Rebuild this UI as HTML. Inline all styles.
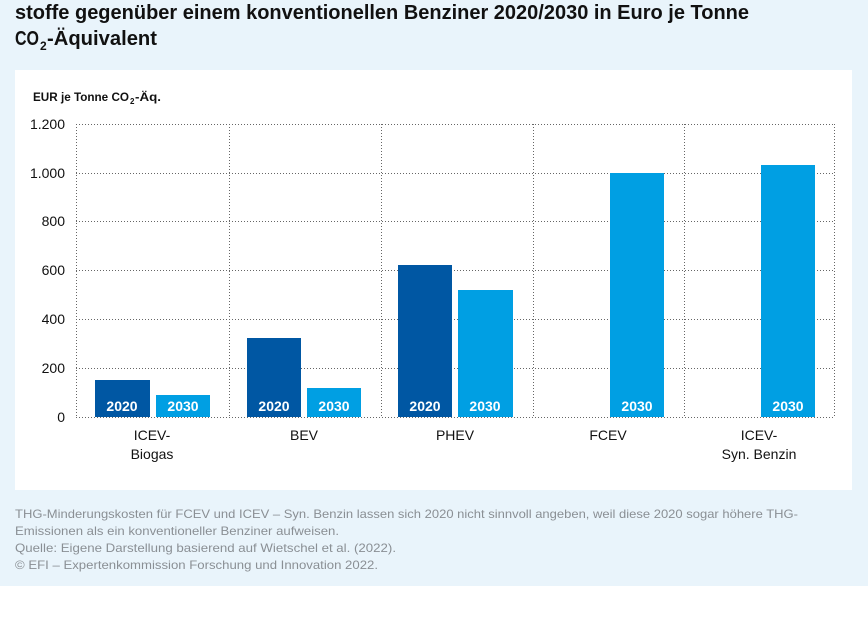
<!DOCTYPE html>
<html><head><meta charset="utf-8"><style>
html,body{margin:0;padding:0;background:#fff;}
svg{display:block;font-family:"Liberation Sans Narrow","Liberation Sans",sans-serif;}
</style></head><body>
<svg width="868" height="618" viewBox="0 0 868 618" xmlns="http://www.w3.org/2000/svg">
<rect x="0" y="0" width="868" height="586" fill="#e9f4fb"/>
<rect x="15" y="70" width="837" height="420" fill="#fff"/>
<g font-weight="bold" font-size="20" fill="#111">
<text x="15" y="19" textLength="734" lengthAdjust="spacingAndGlyphs">stoffe gegenüber einem konventionellen Benziner 2020/2030 in Euro je Tonne</text>
<text x="15" y="45" textLength="24" lengthAdjust="spacingAndGlyphs">CO</text>
<text x="40" y="50" font-size="12">2</text>
<text x="47" y="45" textLength="110" lengthAdjust="spacingAndGlyphs">-Äquivalent</text>
</g>
<g font-size="12" font-weight="bold" fill="#111">
<text x="33" y="101" textLength="96" lengthAdjust="spacingAndGlyphs">EUR je Tonne CO</text>
<text x="130" y="104" font-size="8">2</text>
<text x="135" y="101" textLength="26" lengthAdjust="spacingAndGlyphs">-Äq.</text>
</g>
<g stroke="#666" stroke-width="1" stroke-dasharray="1,2">
<line x1="76" y1="124.5" x2="834" y2="124.5"/>
<line x1="76" y1="173.5" x2="834" y2="173.5"/>
<line x1="76" y1="221.5" x2="834" y2="221.5"/>
<line x1="76" y1="270.5" x2="834" y2="270.5"/>
<line x1="76" y1="319.5" x2="834" y2="319.5"/>
<line x1="76" y1="368.5" x2="834" y2="368.5"/>
<line x1="76" y1="417.5" x2="834" y2="417.5"/>
<line x1="76.5" y1="124" x2="76.5" y2="417"/>
<line x1="229.5" y1="124" x2="229.5" y2="417"/>
<line x1="381.5" y1="124" x2="381.5" y2="417"/>
<line x1="533.5" y1="124" x2="533.5" y2="417"/>
<line x1="684.5" y1="124" x2="684.5" y2="417"/>
<line x1="834.5" y1="124" x2="834.5" y2="417"/>
</g>
<g font-size="14" fill="#111" text-anchor="end">
<text x="65" y="129">1.200</text><text x="65" y="178">1.000</text><text x="65" y="226">800</text>
<text x="65" y="275">600</text><text x="65" y="324">400</text><text x="65" y="373">200</text><text x="65" y="422">0</text>
</g>
<g fill="#0057a3">
<rect x="95" y="380" width="55" height="37"/>
<rect x="247" y="338" width="54" height="79"/>
<rect x="398" y="265" width="54" height="152"/>
</g>
<g fill="#009fe3">
<rect x="156" y="395" width="54" height="22"/>
<rect x="307" y="388" width="54" height="29"/>
<rect x="458" y="290" width="55" height="127"/>
<rect x="610" y="173" width="54" height="244"/>
<rect x="761" y="165" width="54" height="252"/>
</g>
<g font-size="14" font-weight="bold" fill="#fff" text-anchor="middle">
<text x="122" y="411">2020</text><text x="183" y="411">2030</text>
<text x="274" y="411">2020</text><text x="334" y="411">2030</text>
<text x="425" y="411">2020</text><text x="485" y="411">2030</text>
<text x="637" y="411">2030</text><text x="788" y="411">2030</text>
</g>
<g font-size="14" fill="#111" text-anchor="middle">
<text x="152" y="440">ICEV-</text><text x="152" y="459">Biogas</text>
<text x="304" y="440">BEV</text>
<text x="455" y="440">PHEV</text>
<text x="608" y="440">FCEV</text>
<text x="759" y="440">ICEV-</text><text x="759" y="459">Syn. Benzin</text>
</g>
<g font-size="12" fill="#8a8f94">
<text x="15" y="518" textLength="783" lengthAdjust="spacingAndGlyphs">THG-Minderungskosten für FCEV und ICEV – Syn. Benzin lassen sich 2020 nicht sinnvoll angeben, weil diese 2020 sogar höhere THG-</text>
<text x="15" y="535" textLength="324" lengthAdjust="spacingAndGlyphs">Emissionen als ein konventioneller Benziner aufweisen.</text>
<text x="15" y="552" textLength="381" lengthAdjust="spacingAndGlyphs">Quelle: Eigene Darstellung basierend auf Wietschel et al. (2022).</text>
<text x="15" y="569" textLength="363" lengthAdjust="spacingAndGlyphs">© EFI – Expertenkommission Forschung und Innovation 2022.</text>
</g>
</svg>
</body></html>
